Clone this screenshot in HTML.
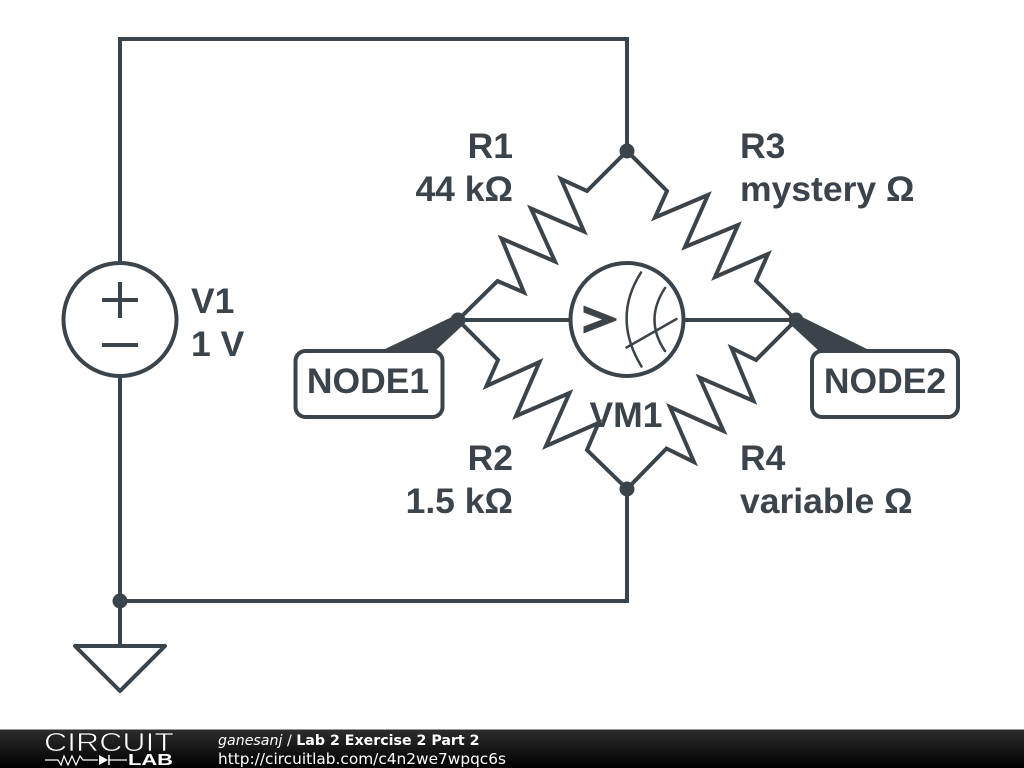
<!DOCTYPE html>
<html>
<head>
<meta charset="utf-8">
<style>
html,body{margin:0;padding:0;background:#fff;width:1024px;height:768px;overflow:hidden}
svg{display:block}
.t{font-family:"Liberation Sans",sans-serif;font-weight:bold;font-size:35.5px;fill:#3b444b}
.w{fill:none;stroke:#3b444b;stroke-width:4;stroke-linejoin:miter;stroke-linecap:butt}
.f{font-family:"DejaVu Sans",sans-serif;font-size:14.2px;fill:#fff}
.u{font-family:"DejaVu Sans",sans-serif;font-size:15.35px;fill:#fff}
</style>
</head>
<body>
<svg width="1024" height="768" viewBox="0 0 1024 768" xmlns="http://www.w3.org/2000/svg">
<defs>
<linearGradient id="g" x1="0" y1="0" x2="0" y2="1">
<stop offset="0" stop-color="#2e2e2e"/><stop offset="1" stop-color="#000"/>
</linearGradient>
</defs>
<rect width="1024" height="768" fill="#fff"/>

<!-- wires -->
<polyline class="w" points="120,262 120,39 627,39 627,151"/>
<polyline class="w" points="120,377 120,646"/>
<polyline class="w" points="120,601 627,601 627,489"/>
<line class="w" x1="458" y1="320" x2="570" y2="320"/>
<line class="w" x1="684" y1="320" x2="796" y2="320"/>

<!-- resistors -->
<polyline class="w" points="458,320 497.5,281 524,292.5 501.5,238.5 555,261.5 531,208.5 584,231.5 561,179 587,191 627,151"/>
<polyline class="w" points="627,151 667,191 655,217.5 708,195 685,247 738,225 715,277 768,254 756,281 796,320"/>
<polyline class="w" points="458,320 498,360 486.5,386 539.5,362 516,416 569.5,393 546,446 598.5,423 587,450 627,489"/>
<polyline class="w" points="796,320 756,360 731.5,348 753.5,401 699.5,377.5 723.5,431 670,407 694,462 666.5,448.5 627,489"/>

<!-- V1 -->
<circle class="w" cx="120" cy="319.5" r="56.5"/>
<line class="w" x1="102" y1="300" x2="138" y2="300"/>
<line class="w" x1="120" y1="282" x2="120" y2="318"/>
<line class="w" x1="102" y1="345" x2="138" y2="345"/>

<!-- meter -->
<circle cx="627" cy="319.5" r="56.5" fill="#fff" stroke="#3b444b" stroke-width="4"/>
<polygon fill="#3b444b" points="583.5,305.5 616.5,318.5 616.5,320.5 583.5,333.5 583.5,326.5 602,319.5 583.5,312.5"/>
<path fill="none" stroke="#3b444b" stroke-width="2.5" stroke-linecap="round" d="M641,272.5 Q612,318 641.5,366.5"/>
<path fill="none" stroke="#3b444b" stroke-width="2.5" stroke-linecap="round" d="M665,288 Q644,320 665,351"/>
<line x1="626.5" y1="347.5" x2="676.5" y2="319" stroke="#3b444b" stroke-width="2.5" stroke-linecap="round"/>

<!-- ground -->
<polygon points="75,646 165,646 120,691" fill="none" stroke="#3b444b" stroke-width="4" stroke-linejoin="round"/>

<!-- node flags -->
<polygon fill="#3b444b" points="456,315 381,351 435,351 462,326"/>
<polygon fill="#3b444b" points="798,315 871,351 819,351 792,326"/>
<rect x="295.5" y="351" width="147" height="66" rx="10" ry="10" fill="#fff" stroke="#3b444b" stroke-width="4"/>
<rect x="812" y="351" width="146" height="66" rx="10" ry="10" fill="#fff" stroke="#3b444b" stroke-width="4"/>

<!-- junctions -->
<circle cx="627" cy="151" r="7.5" fill="#3b444b"/>
<circle cx="458" cy="320" r="7.5" fill="#3b444b"/>
<circle cx="796" cy="320" r="7.5" fill="#3b444b"/>
<circle cx="627" cy="489" r="7.5" fill="#3b444b"/>
<circle cx="120" cy="601" r="7.5" fill="#3b444b"/>

<!-- labels -->
<text class="t" x="513" y="158" text-anchor="end">R1</text>
<text class="t" x="513" y="201" text-anchor="end">44 kΩ</text>
<text class="t" x="740" y="158">R3</text>
<text class="t" x="740" y="201">mystery Ω</text>
<text class="t" x="513" y="470" text-anchor="end">R2</text>
<text class="t" x="513" y="513" text-anchor="end">1.5 kΩ</text>
<text class="t" x="740" y="470">R4</text>
<text class="t" x="740" y="513">variable Ω</text>
<text class="t" x="191" y="313">V1</text>
<text class="t" x="191" y="356">1 V</text>
<text class="t" x="626" y="427" text-anchor="middle">VM1</text>
<text class="t" x="368" y="393" text-anchor="middle">NODE1</text>
<text class="t" x="885" y="393" text-anchor="middle">NODE2</text>

<!-- footer -->
<rect x="0" y="729" width="1024" height="39" fill="url(#g)"/>
<rect x="0" y="729" width="1024" height="1" fill="#999"/>
<text x="44" y="751" textLength="130" lengthAdjust="spacingAndGlyphs" style="font-family:'Liberation Sans',sans-serif;font-size:26px;fill:#fff;stroke:#1a1a1a;stroke-width:.7">CIRCUIT</text>
<polyline fill="none" stroke="#fff" stroke-width="1.2" points="45,760 58,760 61,765 64,756 68,765 72,756 76,765 80,756 83,760 98,760"/>
<polygon fill="#fff" points="99,755 99,765 108,760"/>
<line x1="109" y1="755" x2="109" y2="765" stroke="#fff" stroke-width="1.5"/>
<line x1="109" y1="760" x2="127" y2="760" stroke="#fff" stroke-width="1.2"/>
<text x="128" y="765" textLength="45" lengthAdjust="spacingAndGlyphs" style="font-family:'Liberation Sans',sans-serif;font-weight:bold;font-size:16px;fill:#fff">LAB</text>
<text class="f" x="218" y="745"><tspan font-style="italic">ganesanj</tspan> / <tspan font-weight="bold">Lab 2 Exercise 2 Part 2</tspan></text>
<text class="u" x="218" y="764">http://circuitlab.com/c4n2we7wpqc6s</text>
</svg>
</body>
</html>
